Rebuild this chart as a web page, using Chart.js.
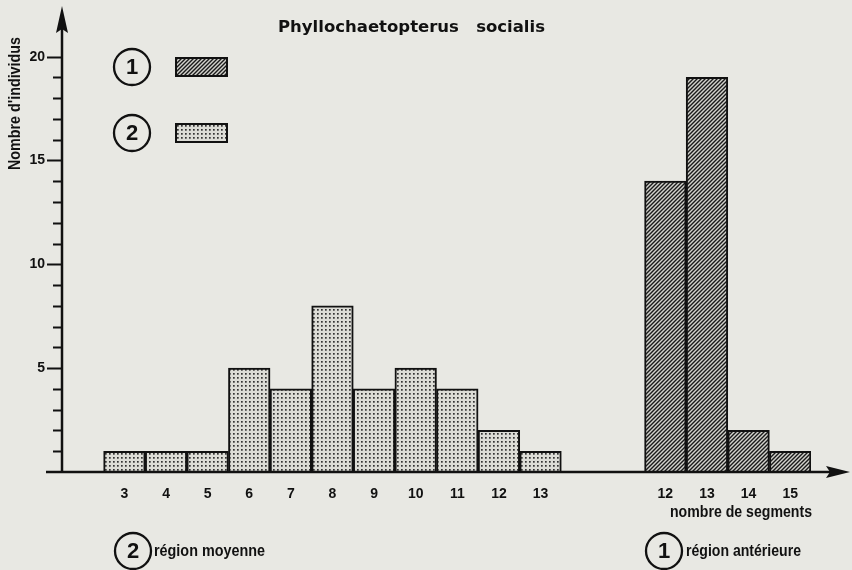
<!DOCTYPE html>
<html><head><meta charset="utf-8">
<script src="https://cdn.jsdelivr.net/npm/chart.js@4/dist/chart.umd.min.js"></script>
<style>html,body{margin:0;padding:0;background:#e8e8e3;} #wrap{width:852px;height:570px;position:relative;}</style>
</head><body><div id="wrap"><canvas id="c"></canvas></div>
<script>
// ---- data ----
const categories = ['', '3','4','5','6','7','8','9','10','11','12','13', '', '', '12','13','14','15'];
const regionMoyenne = [null,1,1,1,5,4,8,4,5,4,2,1,null,null,null,null,null,null];
const regionAnterieure = [null,null,null,null,null,null,null,null,null,null,null,null,null,null,14,19,2,1];
const yLabelValues = [5,10,15,20];
const yTickMax = 20;
const chartTitle = 'Phyllochaetopterus   socialis';
const yTitle = "Nombre d'individus";
const xTitle = 'nombre de segments';
const seriesNames = ['région antérieure', 'région moyenne'];
const seriesNumbers = ['1', '2'];

// ---- patterns ----
function makeHatch(){
  const c = document.createElement('canvas'); c.width = 4; c.height = 4;
  const x = c.getContext('2d');
  x.fillStyle = '#d2d2cc'; x.fillRect(0,0,4,4);
  x.strokeStyle = '#1a1a1a'; x.lineWidth = 1.4;
  x.beginPath();
  x.moveTo(0,4); x.lineTo(4,0);
  x.moveTo(-1,1); x.lineTo(1,-1);
  x.moveTo(3,5); x.lineTo(5,3);
  x.stroke();
  return x.createPattern(c,'repeat');
}
function makeDots(){
  const c = document.createElement('canvas'); c.width = 4; c.height = 4;
  const x = c.getContext('2d');
  x.fillStyle = '#dcdcd6'; x.fillRect(0,0,4,4);
  x.fillStyle = '#333'; x.fillRect(1,1,1.7,1.7);
  return x.createPattern(c,'repeat');
}
const hatch = makeHatch();
const dots = makeDots();
const INK = '#111';
const SANS = '"Liberation Sans", Arial, sans-serif';

// text condensed horizontally to reach a given width (emulates a condensed face)
function condensedText(ctx, txt, x, y, size, width, rotate){
  ctx.save();
  ctx.font = 'bold ' + size + 'px ' + SANS;
  ctx.textBaseline = 'middle'; ctx.textAlign = 'left';
  const w = ctx.measureText(txt).width;
  const k = width / w;
  ctx.translate(x, y);
  if (rotate) ctx.rotate(-Math.PI/2);
  ctx.scale(k, 1);
  ctx.fillText(txt, 0, 0);
  ctx.restore();
}

function circledNumber(ctx, cx, cy, txt){
  ctx.save();
  ctx.lineWidth = 2.3; ctx.strokeStyle = INK;
  ctx.beginPath(); ctx.arc(cx, cy, 18, 0, Math.PI*2); ctx.stroke();
  ctx.fillStyle = INK; ctx.font = 'bold 22px ' + SANS;
  ctx.textAlign = 'center'; ctx.textBaseline = 'middle';
  ctx.fillText(txt, cx, cy + 1);
  ctx.restore();
}

const decor = {
  id: 'decor',
  beforeDraw(chart){
    const ctx = chart.ctx;
    ctx.save(); ctx.fillStyle = '#e8e8e3'; ctx.fillRect(0,0,chart.width,chart.height); ctx.restore();
  },
  afterDraw(chart){
    const ctx = chart.ctx, a = chart.chartArea;
    const ys = chart.scales.y;
    const x0 = a.left, y0 = a.bottom;
    ctx.save();
    ctx.fillStyle = INK; ctx.strokeStyle = INK;
    // axes
    ctx.lineWidth = 2.5;
    ctx.beginPath(); ctx.moveTo(46, y0); ctx.lineTo(838, y0); ctx.stroke();
    ctx.beginPath(); ctx.moveTo(x0, y0); ctx.lineTo(x0, 22); ctx.stroke();
    // arrows
    ctx.beginPath(); ctx.moveTo(x0, 6); ctx.lineTo(x0-6, 33); ctx.lineTo(x0, 29); ctx.lineTo(x0+6, 33); ctx.closePath(); ctx.fill();
    ctx.beginPath(); ctx.moveTo(850, y0); ctx.lineTo(826, y0-6); ctx.lineTo(830, y0); ctx.lineTo(826, y0+6); ctx.closePath(); ctx.fill();
    // y ticks and their labels, from the y scale
    ctx.lineWidth = 2;
    ctx.font = 'bold 14px ' + SANS; ctx.textAlign = 'right'; ctx.textBaseline = 'middle';
    ys.ticks.forEach(t => {
      if (t.value <= 0 || t.value > yTickMax) return;
      const py = Math.round(ys.getPixelForValue(t.value)) + 0.5;
      const major = yLabelValues.includes(t.value);
      ctx.beginPath(); ctx.moveTo(major ? 47 : 53, py); ctx.lineTo(x0, py); ctx.stroke();
      if (major) ctx.fillText(String(t.value), 45, py);
    });
    // title
    ctx.font = 'bold 16.5px "DejaVu Sans", sans-serif';
    ctx.textAlign = 'left'; ctx.textBaseline = 'middle';
    ctx.fillText(chartTitle, 278, 28);
    // y title (rotated)
    condensedText(ctx, yTitle, 15, 170, 17, 133, true);
    // x title
    condensedText(ctx, xTitle, 670, 512, 17, 142, false);
    // legend
    circledNumber(ctx, 132, 67, seriesNumbers[0]);
    circledNumber(ctx, 132, 133, seriesNumbers[1]);
    ctx.lineWidth = 2;
    ctx.fillStyle = hatch; ctx.fillRect(176, 58, 51, 18); ctx.strokeRect(176, 58, 51, 18);
    ctx.fillStyle = dots; ctx.fillRect(176, 124, 51, 18); ctx.strokeRect(176, 124, 51, 18);
    // bottom labels
    circledNumber(ctx, 133, 551, seriesNumbers[1]);
    circledNumber(ctx, 664, 551, seriesNumbers[0]);
    ctx.fillStyle = INK;
    condensedText(ctx, seriesNames[1], 154, 551, 17, 111, false);
    condensedText(ctx, seriesNames[0], 686, 551, 17, 115, false);
    ctx.restore();
  }
};

new Chart(document.getElementById('c'), {
  type: 'bar',
  data: {
    labels: categories,
    datasets: [
      { label: seriesNames[1], data: regionMoyenne, backgroundColor: dots, borderColor: INK, borderWidth: 2, grouped: false, barPercentage: 1, categoryPercentage: 1 },
      { label: seriesNames[0], data: regionAnterieure, backgroundColor: hatch, borderColor: INK, borderWidth: 2, grouped: false, barPercentage: 1, categoryPercentage: 1 }
    ]
  },
  options: {
    responsive: true, maintainAspectRatio: false, animation: false,
    layout: { autoPadding: false, padding: { left: 0, right: 41, top: 15, bottom: 0 } },
    plugins: { legend: { display: false }, tooltip: { enabled: false }, title: { display: false } },
    scales: {
      x: {
        grid: { display: false }, border: { display: false },
        ticks: { color: INK, font: { family: SANS, weight: 'bold', size: 14 }, padding: 6, maxRotation: 0, autoSkip: false },
        afterFit(s){ s.height = 98; }
      },
      y: {
        min: 0, max: 22,
        grid: { display: false, drawTicks: false }, border: { display: false },
        ticks: { stepSize: 1, display: false, padding: 0 },
        afterFit(s){ s.width = 62; }
      }
    }
  },
  plugins: [decor]
});
</script>
</body></html>
